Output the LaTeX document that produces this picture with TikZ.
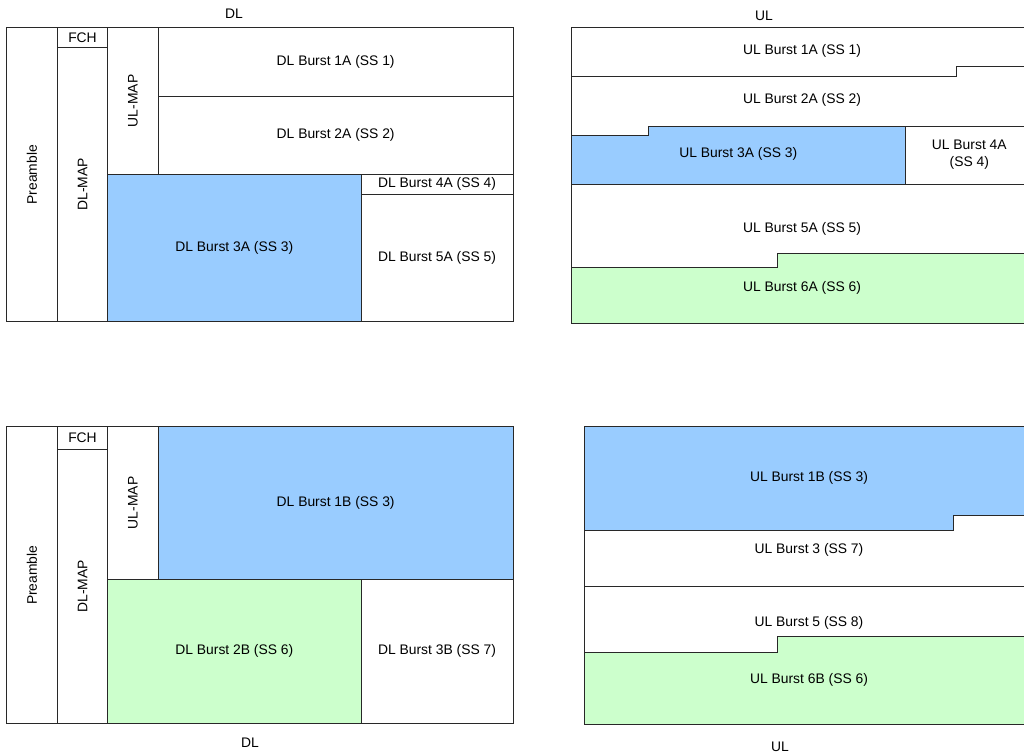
\documentclass[tikz,border=0pt]{standalone}
\usepackage{fontspec}
\setmainfont{Liberation Sans}
\usepackage{xcolor}
\usepackage{tikz}
\usetikzlibrary{fit}

\definecolor{burstblue}{RGB}{153,204,255}
\definecolor{burstgreen}{RGB}{204,255,204}
\definecolor{frameline}{RGB}{40,40,40}

\tikzset{
	cell/.style={draw=frameline, line width=0.75pt, inner sep=0pt, fill=white},
	lbl/.style={inner sep=0pt, align=center},
	border/.style={draw=frameline, line width=0.75pt},
	every node/.style={font=\fontsize{10.4pt}{12.5pt}\selectfont}
}

\begin{document}
\begin{tikzpicture}[x=0.75pt, y=-0.75pt]
		\useasboundingbox (0,0) rectangle (1024,754);
		\clip (0,0) rectangle (1024,754);
		
		% upper DL frame
		\node[cell, fit={(6.5,27.7) (57.3,321.7)}, label={[rotate=90]center:Preamble}] (preA) {};
		\node[cell, fit={(57.3,27.7) (107.7,47.3)}, label=center:FCH] (fchA) {};
		\node[cell, fit={(57.3,47.3) (107.7,321.7)}, label={[rotate=90]center:DL-MAP}] (dlmapA) {};
		\node[cell, fit={(107.7,27.7) (158.3,174)}, label={[rotate=90]center:UL-MAP}] (ulmapA) {};
		\node[cell, fit={(158.3,27.7) (513,96)}, label=center:{DL Burst 1A (SS 1)}] (dlA1) {};
		\node[cell, fit={(158.3,96) (513,174)}, label=center:{DL Burst 2A (SS 2)}] (dlA2) {};
		\node[cell, fill=burstblue, fit={(107.7,174) (361,321.7)}, label=center:{DL Burst 3A (SS 3)}] (dlA3) {};
		\node[cell, fit={(361,174) (513,194)}, label=center:{DL Burst 4A (SS 4)}] (dlA4) {};
		\node[cell, fit={(361,194) (513,321.7)}, label=center:{DL Burst 5A (SS 5)}] (dlA5) {};
		\node[lbl] (dlTop) at (234,14) {DL};
		
		% lower DL frame
		\node[cell, fit={(6.5,426.7) (57.3,723.7)}, label={[rotate=90]center:Preamble}] (preB) {};
		\node[cell, fit={(57.3,426.7) (107.7,449.3)}, label=center:FCH] (fchB) {};
		\node[cell, fit={(57.3,449.3) (107.7,723.7)}, label={[rotate=90]center:DL-MAP}] (dlmapB) {};
		\node[cell, fit={(107.7,426.7) (158.3,579)}, label={[rotate=90]center:UL-MAP}] (ulmapB) {};
		\node[cell, fill=burstblue, fit={(158.3,426.7) (513,579)}, label=center:{DL Burst 1B (SS 3)}] (dlB1) {};
		\node[cell, fill=burstgreen, fit={(107.7,579) (361,723.7)}, label=center:{DL Burst 2B (SS 6)}] (dlB2) {};
		\node[cell, fit={(361,579) (513,723.7)}, label=center:{DL Burst 3B (SS 7)}] (dlB3) {};
		\node[lbl] (dlBottom) at (250,743) {DL};
		
		% upper UL frame, bursts with stepped edges
		\fill[burstblue] (571.3,135) -- (648.3,135) -- (648.3,126) -- (905.3,126)
			-- (905.3,184) -- (571.3,184) -- cycle;
		\fill[burstgreen] (571.3,267.3) -- (777,267.3) -- (777,253) -- (1033,253)
			-- (1033,323.3) -- (571.3,323.3) -- cycle;
		\draw[border] (571.3,76.7) -- (956.7,76.7) -- (956.7,66.7) -- (1033,66.7);
		\draw[border] (571.3,135) -- (648.3,135) -- (648.3,126) -- (1033,126);
		\draw[border] (905.3,126) -- (905.3,184);
		\draw[border] (571.3,184) -- (1033,184);
		\draw[border] (571.3,267.3) -- (777,267.3) -- (777,253) -- (1033,253);
		\draw[border] (571.3,27.7) rectangle (1033,323.3);
		
		\node[lbl] (ulA1) at (802,51) {UL Burst 1A (SS 1)};
		\node[lbl] (ulA2) at (802,100) {UL Burst 2A (SS 2)};
		\node[lbl] (ulA3) at (738.3,154.3) {UL Burst 3A (SS 3)};
		\node[lbl] (ulA4) at (969.3,154.7) {UL Burst 4A\\(SS 4)};
		\node[lbl] (ulA5) at (802,229) {UL Burst 5A (SS 5)};
		\node[lbl] (ulA6) at (802,288.3) {UL Burst 6A (SS 6)};
		\node[lbl] (ulTop) at (764,16) {UL};
		
		% lower UL frame
		\fill[burstblue] (584.3,426.7) -- (1033,426.7) -- (1033,515) -- (953.7,515)
			-- (953.7,530.7) -- (584.3,530.7) -- cycle;
		\fill[burstgreen] (584.3,652.7) -- (777,652.7) -- (777,636.3) -- (1033,636.3)
			-- (1033,724) -- (584.3,724) -- cycle;
		\draw[border] (584.3,530.7) -- (953.7,530.7) -- (953.7,515) -- (1033,515);
		\draw[border] (584.3,586.3) -- (1033,586.3);
		\draw[border] (584.3,652.7) -- (777,652.7) -- (777,636.3) -- (1033,636.3);
		\draw[border] (584.3,426.7) rectangle (1033,724);
		
		\node[lbl] (ulB1) at (809,478.3) {UL Burst 1B (SS 3)};
		\node[lbl] (ulB3) at (809,550) {UL Burst 3 (SS 7)};
		\node[lbl] (ulB5) at (809,623) {UL Burst 5 (SS 8)};
		\node[lbl] (ulB6) at (809,680) {UL Burst 6B (SS 6)};
		\node[lbl] (ulBottom) at (780,747) {UL};
\end{tikzpicture}
\end{document}
